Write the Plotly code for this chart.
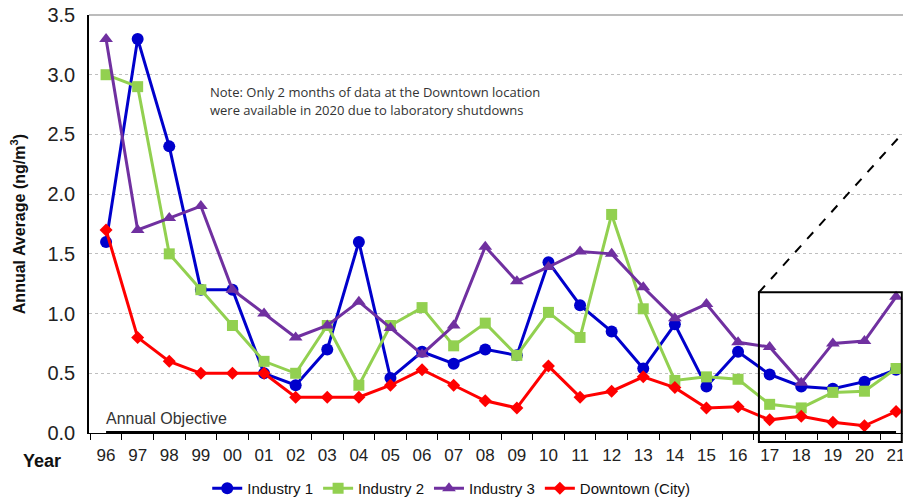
import plotly.graph_objects as go

YEARS = ["96", "97", "98", "99", "00", "01", "02", "03", "04", "05", "06", "07", "08",
         "09", "10", "11", "12", "13", "14", "15", "16", "17", "18", "19", "20", "21"]

INDUSTRY_1 = [1.6, 3.3, 2.4, 1.2, 1.2, 0.5, 0.4, 0.7, 1.6, 0.46, 0.68, 0.58, 0.7,
              0.65, 1.43, 1.07, 0.85, 0.54, 0.91, 0.39, 0.68, 0.49, 0.39, 0.37, 0.43, 0.53]
INDUSTRY_2 = [3.0, 2.9, 1.5, 1.2, 0.9, 0.6, 0.5, 0.9, 0.4, 0.9, 1.05, 0.73, 0.92,
              0.65, 1.01, 0.8, 1.83, 1.04, 0.44, 0.47, 0.45, 0.24, 0.21, 0.34, 0.35, 0.54]
INDUSTRY_3 = [3.3, 1.7, 1.8, 1.9, 1.2, 1.0, 0.8, 0.9, 1.1, 0.88, 0.66, 0.9, 1.56,
              1.27, 1.39, 1.52, 1.5, 1.22, 0.96, 1.08, 0.76, 0.72, 0.42, 0.75, 0.77, 1.14]
DOWNTOWN = [1.7, 0.8, 0.6, 0.5, 0.5, 0.5, 0.3, 0.3, 0.3, 0.4, 0.53, 0.4, 0.27,
            0.21, 0.56, 0.3, 0.35, 0.47, 0.38, 0.21, 0.22, 0.11, 0.14, 0.09, 0.06, 0.18]
OBJECTIVE = 0.0

SERIES = [
    ("Industry 1", INDUSTRY_1, "#0000CC", "circle", 12),
    ("Industry 2", INDUSTRY_2, "#92D050", "square", 11),
    ("Industry 3", INDUSTRY_3, "#7030A0", "triangle-up", 12),
    ("Downtown (City)", DOWNTOWN, "#FF0000", "diamond", 10),
]

FONT = "Liberation Sans, Arial, sans-serif"

fig = go.Figure()

for name, vals, color, symbol, size in SERIES:
    fig.add_trace(go.Scatter(
        x=YEARS, y=vals, name=name,
        mode="lines+markers",
        line=dict(color=color, width=3),
        marker=dict(color=color, symbol=symbol, size=size),
        cliponaxis=False,
    ))

# annual objective line along the bottom
fig.add_trace(go.Scatter(
    x=[YEARS[0], YEARS[-1]], y=[OBJECTIVE, OBJECTIVE],
    mode="lines", line=dict(color="black", width=4),
    showlegend=False, hoverinfo="skip", cliponaxis=False,
))

fig.update_layout(
    width=903, height=505,
    plot_bgcolor="white", paper_bgcolor="white",
    font=dict(family=FONT, size=15, color="#222"),
    margin=dict(l=89, r=0, t=15, b=66),
    showlegend=True,
    legend=dict(
        orientation="h", x=0.445, xanchor="center", y=-0.134, yanchor="middle",
        font=dict(size=15, color="#111"), bgcolor="rgba(0,0,0,0)",
        itemwidth=30, tracegroupgap=0,
    ),
    xaxis=dict(
        type="category", categoryorder="array", categoryarray=YEARS,
        range=[-0.54, 25.22], automargin=False, ticklabeloverflow="allow",
        showline=True, linecolor="black", linewidth=1,
        ticks="outside", tickson="boundaries", ticklen=6, tickcolor="black",
        tickfont=dict(size=17, color="#222"), ticklabelstandoff=7,
        showgrid=False, zeroline=False,
    ),
    yaxis=dict(
        range=[0, 3.5], dtick=0.5, tickformat=".1f", automargin=False,
        ticklabeloverflow="allow",
        showline=True, linecolor="black", linewidth=1.5,
        showgrid=True, gridcolor="#BFBFBF", griddash="dot", gridwidth=1,
        zeroline=False, ticks="", tickfont=dict(size=20, color="#222"),
        ticklabelstandoff=8,
    ),
    shapes=[
        dict(type="line", xref="paper", yref="paper",
             x0=0, x1=1, y0=1, y1=1, line=dict(color="#A6A6A6", width=1.5)),
        dict(type="rect", xref="paper", yref="paper",
             x0=0.823, x1=0.9985, y0=-0.0215, y1=0.3365,
             line=dict(color="black", width=2)),
        dict(type="line", xref="paper", yref="paper",
             x0=0.823, y0=0.3365, x1=1.0, y1=0.718,
             line=dict(color="black", width=2, dash="dash")),
    ],
    annotations=[
        dict(text="<b>Annual Average (ng/m<sup>3</sup>)</b>", textangle=-90,
             xref="paper", yref="paper", x=-0.087, y=0.5,
             xanchor="center", yanchor="middle", showarrow=False,
             font=dict(size=16, color="#111")),
        dict(text="<b>Year</b>", xref="paper", yref="paper",
             x=-0.058, y=-0.066, xanchor="center", yanchor="middle",
             showarrow=False, font=dict(size=18, color="#111")),
        dict(text="Annual Objective", xref="paper", yref="y",
             x=0.019, y=OBJECTIVE, xanchor="left", yanchor="bottom", yshift=4,
             showarrow=False, font=dict(size=16, color="#333")),
        dict(text="Note: Only 2 months of data at the Downtown location",
             xref="paper", yref="paper", x=0.146, y=0.816,
             xanchor="left", yanchor="middle", showarrow=False,
             font=dict(family="Open Sans", size=13, color="#333")),
        dict(text="were available in 2020 due to laboratory shutdowns",
             xref="paper", yref="paper", x=0.146, y=0.773,
             xanchor="left", yanchor="middle", showarrow=False,
             font=dict(family="Open Sans", size=13, color="#333")),
    ],
)

# drop the default body margin so the figure fills the window exactly
fig.write_html("out.html", config={"displayModeBar": False},
               post_script="document.body.style.margin = '0';")
